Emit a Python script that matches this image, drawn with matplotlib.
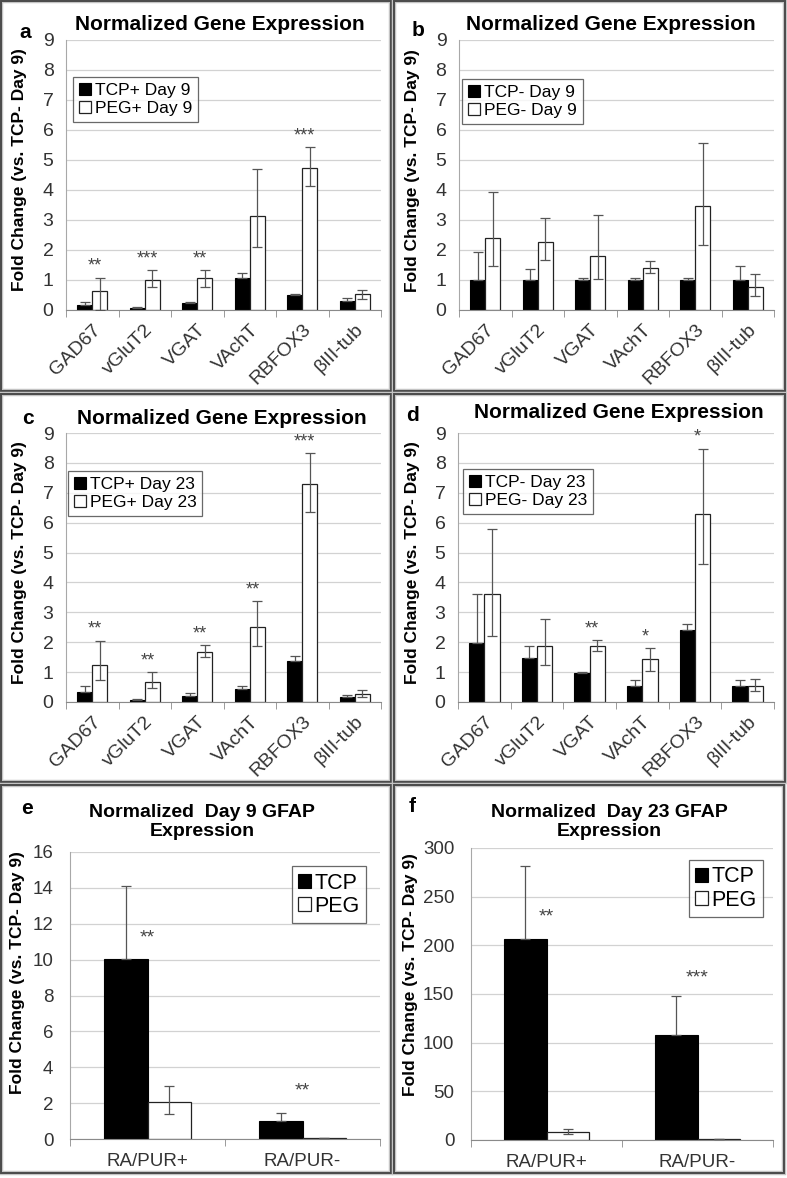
import matplotlib
matplotlib.use("Agg")
import matplotlib.pyplot as plt
import numpy as np
from matplotlib.patches import Rectangle
from matplotlib.ticker import FixedLocator

plt.rcParams["font.family"] = ["Liberation Sans", "DejaVu Sans"]

GENES = ["GAD67", "vGluT2", "VGAT", "VAchT", "RBFOX3", "βIII-tub"]
GROUPS = ["RA/PUR+", "RA/PUR-"]

# panel a: day 9, RA/PUR+
A_TCP = [0.15, 0.08, 0.23, 1.05, 0.50, 0.30]
A_TCP_ERR = [0.10, 0.03, 0.02, 0.17, 0.03, 0.10]
A_PEG = [0.62, 1.00, 1.05, 3.12, 4.73, 0.52]
A_PEG_LO = [0.62, 0.25, 0.27, 1.02, 0.61, 0.16]
A_PEG_HI = [0.45, 0.32, 0.27, 1.58, 0.69, 0.16]
A_STARS = ["**", "***", "**", "", "***", ""]

# panel b: day 9, RA/PUR-
B_TCP = [1.0, 1.0, 1.0, 1.0, 1.0, 1.0]
B_TCP_ERR = [0.93, 0.38, 0.08, 0.08, 0.05, 0.47]
B_PEG = [2.40, 2.28, 1.80, 1.40, 3.47, 0.75]
B_PEG_LO = [0.93, 0.60, 0.77, 0.18, 1.29, 0.28]
B_PEG_HI = [1.53, 0.78, 1.36, 0.22, 2.08, 0.45]
B_STARS = ["", "", "", "", "", ""]

# panel c: day 23, RA/PUR+
C_TCP = [0.33, 0.08, 0.20, 0.42, 1.37, 0.17]
C_TCP_ERR = [0.22, 0.02, 0.10, 0.10, 0.18, 0.05]
C_PEG = [1.25, 0.68, 1.68, 2.52, 7.28, 0.27]
C_PEG_LO = [0.50, 0.21, 0.18, 0.65, 0.91, 0.09]
C_PEG_HI = [0.80, 0.32, 0.22, 0.85, 1.05, 0.13]
C_STARS = ["**", "**", "**", "**", "***", ""]

# panel d: day 23, RA/PUR-
D_TCP = [1.97, 1.47, 0.97, 0.52, 2.40, 0.55]
D_TCP_ERR = [1.65, 0.40, 0.03, 0.20, 0.22, 0.20]
D_PEG = [3.60, 1.87, 1.87, 1.43, 6.28, 0.53]
D_PEG_LO = [1.38, 0.62, 0.17, 0.38, 1.65, 0.15]
D_PEG_HI = [2.20, 0.91, 0.19, 0.37, 2.19, 0.25]
D_STARS = ["", "", "**", "*", "*", ""]

# panel e: GFAP day 9
E_TCP = [10.05, 1.00]
E_TCP_ERR = [4.05, 0.45]
E_PEG = [2.05, 0.05]
E_PEG_LO = [0.65, 0.0]
E_PEG_HI = [0.92, 0.0]
E_STARS = ["**", "**"]
E_STAR_Y = [11.2, 2.7]

# panel f: GFAP day 23
F_TCP = [207, 108]
F_TCP_ERR = [74, 40]
F_PEG = [8, 1]
F_PEG_LO = [2, 0.3]
F_PEG_HI = [3, 0.5]
F_STARS = ["**", "***"]
F_STAR_Y = [229, 166]

W, H = 787, 1178
fig = plt.figure(figsize=(W / 100, H / 100), dpi=100, facecolor="white")


def fx(x):
    return x / W


def fy(y):
    return 1 - y / H


def box(x0, y0, x1, y1):
    for lw, col in [(3.2, "#c4c4c4"), (1.4, "#4a4a4a")]:
        fig.patches.append(Rectangle((fx(x0), fy(y1)), fx(x1 - x0), (y1 - y0) / H,
                                     transform=fig.transFigure, fill=False,
                                     edgecolor=col, linewidth=lw))


def make_axes(l, t, r, b):
    ax = fig.add_axes([fx(l), fy(b), (r - l) / W, (b - t) / H])
    ax.set_facecolor("white")
    for s in ["top", "right"]:
        ax.spines[s].set_visible(False)
    ax.spines["left"].set_color("#a8a8a8")
    ax.spines["bottom"].set_color("#8a8a8a")
    ax.yaxis.grid(True, color="#d2d2d2", linewidth=0.9)
    ax.set_axisbelow(True)
    ax.tick_params(axis="y", length=0, labelsize=14, labelcolor="#333333", pad=9)
    ax.tick_params(axis="x", which="major", length=0, labelsize=14, labelcolor="#333333")
    ax.tick_params(axis="x", which="minor", length=5, color="#8a8a8a", direction="out")
    return ax


def bars(ax, cats, tcp, tcp_err, peg, peg_lo, peg_hi, width, labels, ylim, step):
    x = np.arange(len(cats))
    ax.bar(x - width / 2, tcp, width, color="black", edgecolor="black", linewidth=0.8,
           label=labels[0], zorder=2)
    ax.bar(x + width / 2, peg, width, color="white", edgecolor="#222222", linewidth=0.9,
           label=labels[1], zorder=2)
    ax.errorbar(x - width / 2, tcp, yerr=[np.zeros(len(x)), tcp_err], fmt="none",
                ecolor="#555555", elinewidth=0.9, capsize=3.5, capthick=0.9, zorder=3)
    ax.errorbar(x + width / 2, peg, yerr=[peg_lo, peg_hi], fmt="none",
                ecolor="#555555", elinewidth=0.9, capsize=3.5, capthick=0.9, zorder=3)
    ax.set_xlim(-0.5, len(cats) - 0.5)
    ax.set_ylim(*ylim)
    ax.set_yticks(np.arange(ylim[0], ylim[1] + step / 2, step))
    ax.set_xticks(x)
    ax.xaxis.set_minor_locator(FixedLocator(np.arange(-0.5, len(cats), 1.0)))
    return x


gene_panels = [
    ("a", (66, 40, 381, 310), (1, 1, 391, 391), (25, 33), (220, 25), (20, 170),
     (A_TCP, A_TCP_ERR, A_PEG, A_PEG_LO, A_PEG_HI, A_STARS),
     ["TCP+ Day 9", "PEG+ Day 9"], (0.022, 0.863)),
    ("b", (459, 40, 774, 310), (394, 1, 785, 391), (418, 30), (611, 25), (413, 171),
     (B_TCP, B_TCP_ERR, B_PEG, B_PEG_LO, B_PEG_HI, B_STARS),
     ["TCP- Day 9", "PEG- Day 9"], (0.010, 0.856)),
    ("c", (66, 433, 381, 702), (1, 394, 391, 782), (28, 418), (222, 418), (20, 563),
     (C_TCP, C_TCP_ERR, C_PEG, C_PEG_LO, C_PEG_HI, C_STARS),
     ["TCP+ Day 23", "PEG+ Day 23"], (0.006, 0.859)),
    ("d", (458, 433, 774, 702), (394, 394, 785, 782), (412, 415), (619, 413), (413, 563),
     (D_TCP, D_TCP_ERR, D_PEG, D_PEG_LO, D_PEG_HI, D_STARS),
     ["TCP- Day 23", "PEG- Day 23"], (0.016, 0.866)),
]

for letter, ax_px, box_px, let_px, title_px, ylab_px, data, labels, leg_anchor in gene_panels:
    box(*box_px)
    ax = make_axes(*ax_px)
    tcp, tcp_err, peg, peg_lo, peg_hi, stars = data
    x = bars(ax, GENES, tcp, tcp_err, peg, peg_lo, peg_hi, 0.29, labels, (0, 9), 1)
    ax.set_xticklabels(GENES, rotation=45, ha="right", rotation_mode="anchor")
    ax.tick_params(axis="x", which="major", pad=8)
    for i, s in enumerate(stars):
        if s:
            ax.text(x[i] + 0.05, peg[i] + peg_hi[i] + 0.1, s, ha="center", va="bottom",
                    fontsize=13, color="#444444")
    leg = ax.legend(loc="upper left", bbox_to_anchor=leg_anchor, borderaxespad=0,
                    fontsize=12.5, frameon=True, fancybox=False, handlelength=0.7,
                    handleheight=0.7, handletextpad=0.2, borderpad=0.35, labelspacing=0.15)
    leg.get_frame().set_edgecolor("#444444")
    leg.get_frame().set_linewidth(0.9)
    fig.text(fx(let_px[0]), fy(let_px[1]), letter, ha="center", va="center",
             fontsize=15, fontweight="bold")
    fig.text(fx(title_px[0]), fy(title_px[1]), "Normalized Gene Expression", ha="center",
             va="center", fontsize=15, fontweight="bold")
    fig.text(fx(ylab_px[0]), fy(ylab_px[1]), "Fold Change (vs. TCP- Day 9)", rotation=90,
             ha="center", va="center", fontsize=12.5, fontweight="bold")

gfap_panels = [
    ("e", (70, 852, 380, 1139), (1, 785, 391, 1173), (27, 808), (202, 822),
     "Normalized  Day 9 GFAP\nExpression", (18, 973),
     (E_TCP, E_TCP_ERR, E_PEG, E_PEG_LO, E_PEG_HI, E_STARS, E_STAR_Y),
     (0, 16), 2, (0.955, 0.951)),
    ("f", (471, 848, 773, 1140), (394, 785, 784, 1173), (412, 807), (609, 822),
     "Normalized  Day 23 GFAP\nExpression", (410, 975),
     (F_TCP, F_TCP_ERR, F_PEG, F_PEG_LO, F_PEG_HI, F_STARS, F_STAR_Y),
     (0, 300), 50, (0.967, 0.959)),
]

for letter, ax_px, box_px, let_px, title_px, title, ylab_px, data, ylim, step, leg_anchor in gfap_panels:
    box(*box_px)
    ax = make_axes(*ax_px)
    tcp, tcp_err, peg, peg_lo, peg_hi, stars, star_y = data
    x = bars(ax, GROUPS, tcp, tcp_err, peg, peg_lo, peg_hi, 0.28, ["TCP", "PEG"], ylim, step)
    ax.set_xticklabels(GROUPS)
    ax.tick_params(axis="x", which="major", pad=10, labelsize=13.5)
    ax.tick_params(axis="y", labelsize=13.5, pad=12)
    for i, s in enumerate(stars):
        ax.text(x[i], star_y[i], s, ha="center", va="center", fontsize=14, color="#444444")
    leg = ax.legend(loc="upper right", bbox_to_anchor=leg_anchor, borderaxespad=0,
                    fontsize=15.5, frameon=True, fancybox=False, handlelength=0.6,
                    handleheight=0.6, handletextpad=0.15, borderpad=0.3, labelspacing=0.1)
    leg.get_frame().set_edgecolor("#444444")
    leg.get_frame().set_linewidth(0.9)
    fig.text(fx(let_px[0]), fy(let_px[1]), letter, ha="center", va="center",
             fontsize=15, fontweight="bold")
    fig.text(fx(title_px[0]), fy(title_px[1]), title, ha="center", va="center",
             fontsize=14, fontweight="bold", linespacing=1.1)
    fig.text(fx(ylab_px[0]), fy(ylab_px[1]), "Fold Change (vs. TCP- Day 9)", rotation=90,
             ha="center", va="center", fontsize=12.5, fontweight="bold")

fig.savefig("out.png", dpi=100, facecolor="white")
plt.close(fig)
